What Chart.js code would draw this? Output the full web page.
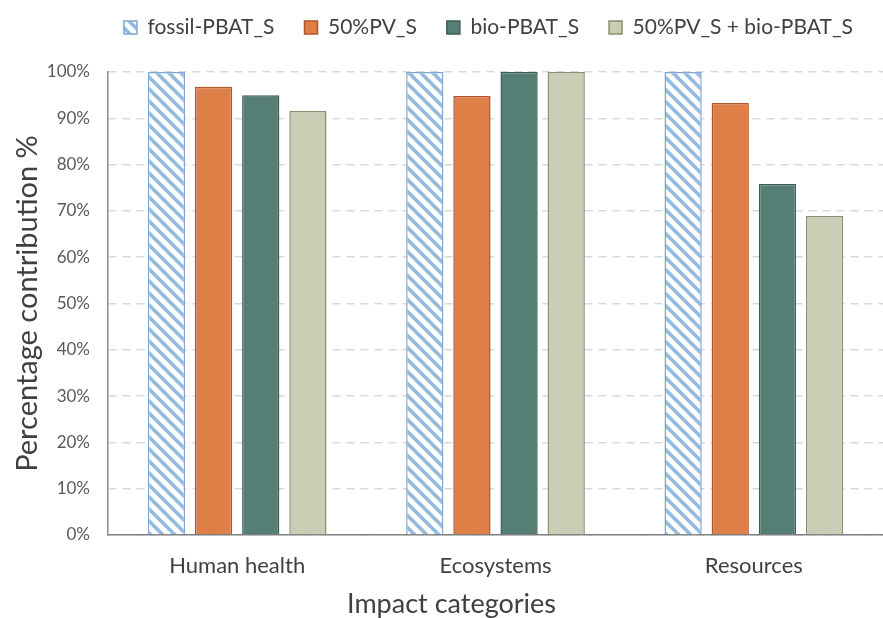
<!DOCTYPE html>
<html lang="en">
<head>
    <meta charset="UTF-8">
    <title>Impact categories</title>
    <style>
        body {
            margin: 0;
            background-color: #ffffff;
        }
        #chartBox {
            width: 883px;
            height: 618px;
        }
    </style>
    <script src="https://cdn.jsdelivr.net/npm/chart.js"></script>
</head>
<body>
    <div id="chartBox">
        <canvas id="impactChart" width="883" height="618"></canvas>
    </div>
    <script>
        // datos
        const categories = ['Human health', 'Ecosystems', 'Resources'];
        const seriesNames = ['fossil-PBAT_S', '50%PV_S', 'bio-PBAT_S', '50%PV_S + bio-PBAT_S'];
        const fossilValues = [100, 100, 100];
        const pvValues = [96.8, 94.8, 93.3];
        const bioValues = [95.0, 100, 75.8];
        const pvBioValues = [91.6, 100, 68.9];
        const yTicks = [0, 10, 20, 30, 40, 50, 60, 70, 80, 90, 100];

        // patron rayado para fossil-PBAT_S
        function makeHatch() {
            const s = 12;
            const c = document.createElement('canvas');
            c.width = s;
            c.height = s;
            const g = c.getContext('2d');
            g.fillStyle = '#ffffff';
            g.fillRect(0, 0, s, s);
            g.strokeStyle = '#95badf';
            g.lineWidth = 3.6;
            g.beginPath();
            for (let k = -1; k <= 1; k++) {
                g.moveTo(k * s - 2, -2);
                g.lineTo(k * s + s + 2, s + 2);
            }
            g.stroke();
            return g.createPattern(c, 'repeat');
        }

        // fija el alto de la leyenda
        const legendHeight = {
            id: 'legendHeight',
            beforeInit(chart) {
                const fit = chart.legend.fit;
                chart.legend.fit = function () {
                    fit.bind(chart.legend)();
                    this.height = 85;
                };
            }
        };

        const ctx = document.getElementById('impactChart').getContext('2d');
        const fontName = 'Lato, "Open Sans", sans-serif';

        new Chart(ctx, {
            type: 'bar',
            data: {
                labels: categories,
                datasets: [{
                    label: seriesNames[0],
                    data: fossilValues,
                    backgroundColor: makeHatch(),
                    borderColor: '#7ea6d0',
                    borderWidth: 1.5
                }, {
                    label: seriesNames[1],
                    data: pvValues,
                    backgroundColor: '#dd7f47',
                    borderColor: '#b2552c',
                    borderWidth: 1.5
                }, {
                    label: seriesNames[2],
                    data: bioValues,
                    backgroundColor: '#557f74',
                    borderColor: '#3c5e55',
                    borderWidth: 1.5
                }, {
                    label: seriesNames[3],
                    data: pvBioValues,
                    backgroundColor: '#c9cdb3',
                    borderColor: '#8b9074',
                    borderWidth: 1.5
                }]
            },
            plugins: [legendHeight],
            options: {
                responsive: false,
                devicePixelRatio: 1,
                animation: false,
                layout: {
                    padding: { top: -13, left: 0, right: 0, bottom: 0 }
                },
                datasets: {
                    bar: {
                        barPercentage: 0.79,
                        categoryPercentage: 0.73
                    }
                },
                plugins: {
                    tooltip: { enabled: false },
                    legend: {
                        position: 'top',
                        align: 'end',
                        labels: {
                            boxWidth: 13,
                            boxHeight: 13,
                            padding: 30,
                            color: '#404040',
                            font: { family: fontName, size: 21 }
                        }
                    }
                },
                scales: {
                    x: {
                        afterFit: function (scale) {
                            scale.height = 83;
                        },
                        grid: { display: false, drawTicks: false },
                        border: { display: true, color: '#808080', width: 1.5 },
                        ticks: {
                            padding: 18,
                            color: '#404040',
                            font: { family: fontName, size: 22 }
                        },
                        title: {
                            display: true,
                            // espacios finales para correr el titulo a la izquierda
                            text: 'Impact categories\u2003\u2003\u2003\u2003 ',
                            color: '#404040',
                            padding: { top: 0, bottom: -2 },
                            font: { family: fontName, size: 27 }
                        }
                    },
                    y: {
                        min: 0,
                        max: 100,
                        afterFit: function (scale) {
                            scale.width = 108;
                        },
                        afterBuildTicks: function (scale) {
                            scale.ticks = yTicks.map(v => ({ value: v }));
                        },
                        grid: { color: '#d9d9d9', lineWidth: 1.5, drawTicks: false },
                        border: { display: true, color: '#8c8c8c', width: 1.5, dash: [8, 6] },
                        ticks: {
                            padding: 18,
                            color: '#595959',
                            font: { family: fontName, size: 17 },
                            callback: function (value) {
                                return value + '%';
                            }
                        },
                        title: {
                            display: true,
                            text: 'Percentage contribution %',
                            color: '#404040',
                            padding: { top: 10, bottom: 4 },
                            font: { family: fontName, size: 29 }
                        }
                    }
                }
            }
        });
    </script>
</body>
</html>
